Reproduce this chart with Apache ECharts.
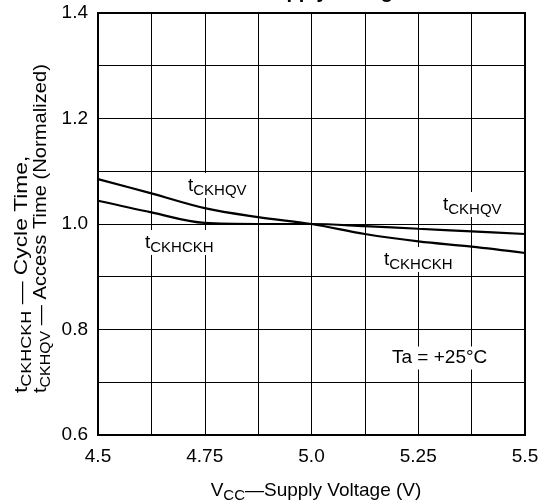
<!DOCTYPE html>
<html>
<head>
<meta charset="utf-8">
<script src="https://cdn.jsdelivr.net/npm/echarts@6/dist/echarts.min.js"></script>
<style>
  html, body { margin: 0; padding: 0; background: #fff; }
  #chart { width: 546px; height: 502px; }
</style>
</head>
<body>
<div id="chart"></div>
<script>
const FONT = '"Liberation Sans", Arial, sans-serif';

// supply voltage (V)
const voltages = [4.5, 4.625, 4.75, 4.875, 5.0, 5.125, 5.25, 5.375, 5.5];
// normalized times
const tCkhqv = [1.085, 1.058, 1.030, 1.013, 1.0, 0.981, 0.967, 0.957, 0.945];
const tCkhckh = [1.044, 1.022, 1.002, 1.0, 1.0, 0.996, 0.991, 0.986, 0.981];

const xTickLabels = ['4.5', '4.75', '5.0', '5.25', '5.5'];
const yTickLabels = ['0.6', '0.8', '1.0', '1.2', '1.4'];

const pair = (xs, ys) => xs.map((x, i) => [x, ys[i]]);

const rich = {
  m: { fontSize: 19, fontFamily: FONT, fill: '#000' },
  s: { fontSize: 15, fontFamily: FONT, fill: '#000', padding: [10, 0, 0, 0] }
};
const subText = (main, sub, rest) => `{m|${main}}{s|${sub}}` + (rest ? `{m|${rest}}` : '');

const label = (x, y, txt) => ({
  type: 'text', x: x, y: y, z: 10,
  style: {
    text: txt, rich: rich, fill: '#000', font: '19px ' + FONT,
    backgroundColor: '#fff', padding: [0, 3, 0, 3],
    align: 'left', verticalAlign: 'top'
  }
});

const chart = echarts.init(document.getElementById('chart'));

const option = {
  animation: false,
  backgroundColor: '#fff',
  grid: { left: 98, right: 21, top: 13, bottom: 67, show: true, borderColor: '#000', borderWidth: 2, z: 5 },
  xAxis: {
    type: 'value', min: 4.5, max: 5.5, interval: 0.125,
    axisLine: { show: false }, axisTick: { show: false },
    splitLine: { lineStyle: { color: '#000', width: 1 } },
    axisLabel: {
      margin: 12, color: '#000', fontSize: 19, fontFamily: FONT,
      formatter: v => {
        const i = Math.round((v - 4.5) / 0.25 * 1000) / 1000;
        return Number.isInteger(i) ? xTickLabels[i] : '';
      }
    }
  },
  yAxis: {
    type: 'value', min: 0.6, max: 1.4, interval: 0.1,
    axisLine: { show: false }, axisTick: { show: false },
    splitLine: { lineStyle: { color: '#000', width: 1 } },
    axisLabel: {
      margin: 10, color: '#000', fontSize: 19, fontFamily: FONT,
      formatter: v => {
        const i = Math.round((v - 0.6) / 0.2 * 1000) / 1000;
        return Number.isInteger(i) ? yTickLabels[i] : '';
      }
    }
  },
  series: [
    {
      name: 'tCKHQV', type: 'line', data: pair(voltages, tCkhqv),
      symbol: 'none', smooth: 0.35,
      lineStyle: { color: '#000', width: 2.2 }, z: 6
    },
    {
      name: 'tCKHCKH', type: 'line', data: pair(voltages, tCkhckh),
      symbol: 'none', smooth: 0.35,
      lineStyle: { color: '#000', width: 2.2 }, z: 6
    }
  ],
  graphic: [
    // title, mostly cut off at the top edge
    { type: 'text', x: 261, y: -8, style: { text: 'Supply Voltage', font: 'bold 20px ' + FONT, fill: '#000', verticalAlign: 'middle' } },
    label(185, 173, subText('t', 'CKHQV')),
    label(142, 230, subText('t', 'CKHCKH')),
    label(440, 192, subText('t', 'CKHQV')),
    label(381, 247, subText('t', 'CKHCKH')),
    { type: 'text', x: 389, y: 358, z: 10, style: { text: 'Ta = +25°C', font: '19px ' + FONT, fill: '#000', backgroundColor: '#fff', padding: [2, 3, 2, 3], verticalAlign: 'middle' } },
    // x axis name
    { type: 'text', x: 316, y: 478, style: { text: subText('V', 'CC', '—Supply Voltage (V)'), rich: rich, align: 'center', verticalAlign: 'top' } },
    // y axis name, two rotated lines
    { type: 'text', x: 9, y: 393, rotation: Math.PI / 2, scaleX: 1.2, style: { text: subText('t', 'CKHCKH', ' — Cycle Time,'), rich: rich, align: 'left', verticalAlign: 'top' } },
    { type: 'text', x: 28, y: 393, rotation: Math.PI / 2, scaleX: 1.06, style: { text: subText('t', 'CKHQV', ' — Access Time (Normalized)'), rich: rich, align: 'left', verticalAlign: 'top' } }
  ]
};

chart.setOption(option);
</script>
</body>
</html>
